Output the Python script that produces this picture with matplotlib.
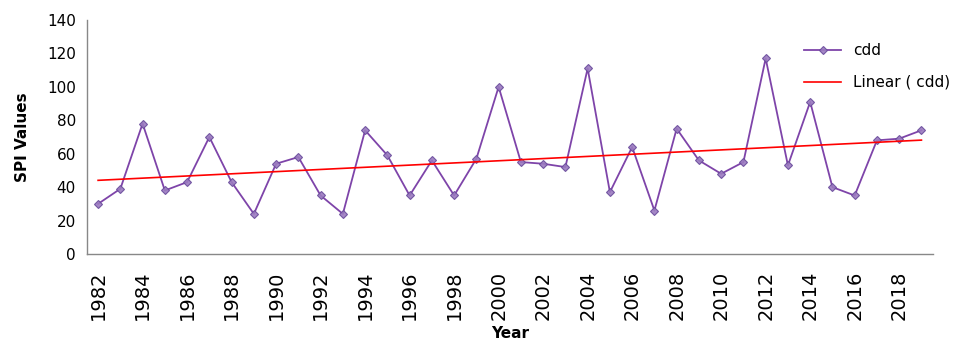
import matplotlib
matplotlib.use("Agg")
import matplotlib.pyplot as plt
import numpy as np

years = list(range(1982, 2020))
cdd = [30, 39, 78, 38, 43, 70, 43, 24, 54, 58,
       35, 24, 74, 59, 35, 56, 35, 57, 100, 55,
       54, 52, 111, 37, 64, 26, 75, 56, 48, 55,
       117, 53, 91, 40, 35, 68, 69, 74]
tick_years = list(range(1982, 2019, 2))

plt.rcParams["font.family"] = ["DejaVu Sans"]

fig = plt.figure(figsize=(9.62, 3.54), dpi=100)
ax = fig.add_axes([0.0904, 0.2825, 0.879, 0.661])

ax.plot(years, cdd, color="#7030A0", lw=1.3, marker="D", ms=4,
        mfc="#9B7BC0", mec="#6A4C9C", mew=0.8, label="cdd", alpha=0.9)

coef = np.polyfit(years, cdd, 1)
trend = np.polyval(coef, years)
ax.plot(years, trend, color="#FF0000", lw=1.2, label="Linear ( cdd)")

ax.set_xlim(1981.5, 2019.5)
ax.set_ylim(0, 140)
ax.set_yticks(range(0, 141, 20))
ax.set_xticks(tick_years)
ax.set_xticklabels([str(y) for y in tick_years], rotation=90, fontsize=14)
ax.tick_params(axis="y", labelsize=11, length=0, pad=8)
ax.tick_params(axis="x", length=0, pad=12)

for s in ("top", "right"):
    ax.spines[s].set_visible(False)
for s in ("left", "bottom"):
    ax.spines[s].set_color("#888888")
    ax.spines[s].set_linewidth(1.0)

ax.set_ylabel("SPI Values", fontsize=11, fontweight="bold", labelpad=12)
ax.set_xlabel("Year", fontsize=11, fontweight="bold", labelpad=4)

ax.legend(loc="upper left", bbox_to_anchor=(0.832, 0.96), frameon=False,
          fontsize=11, handlelength=2.4, labelspacing=1.1)

fig.savefig("out.png", dpi=100)
